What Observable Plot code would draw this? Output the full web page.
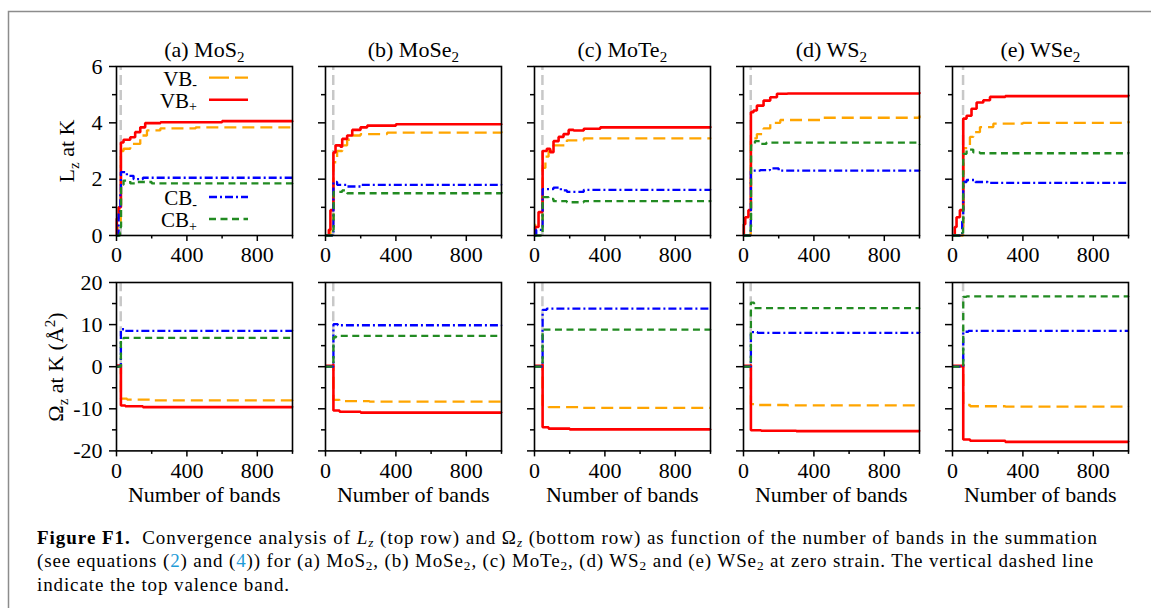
<!DOCTYPE html>
<html>
<head>
<meta charset="utf-8">
<script src="https://cdn.jsdelivr.net/npm/d3@7"></script>
<script src="https://cdn.jsdelivr.net/npm/@observablehq/plot@0.6"></script>
<style>
  body { margin: 0; background: #fff; }
  #fig { position: relative; width: 1151px; height: 608px; overflow: hidden; background: #fff;
         font-family: "Liberation Serif", "Times New Roman", serif; color: #000; }
  #caption { position: absolute; left: 37px; top: 525.5px; font-size: 19px; line-height: 23.7px; }
  #caption .cl { white-space: nowrap; display: block; }
  #caption .cl span.inner { display: inline-block; white-space: nowrap; }
  #caption sub { font-size: 70%; vertical-align: -0.25em; line-height: 0; }
  #caption .ref { color: #1f9bd7; }
</style>
</head>
<body>
<div id="fig">
  <div id="caption">
    <div class="cl" data-w="1061"><span class="inner"><b>Figure F1.</b>&nbsp; Convergence analysis of <i>L</i><sub><i>z</i></sub> (top row) and Ω<sub><i>z</i></sub> (bottom row) as function of the number of bands in the summation</span></div>
    <div class="cl" data-w="1057"><span class="inner">(see equations (<span class="ref">2</span>) and (<span class="ref">4</span>)) for (a) MoS<sub>2</sub>, (b) MoSe<sub>2</sub>, (c) MoTe<sub>2</sub>, (d) WS<sub>2</sub> and (e) WSe<sub>2</sub> at zero strain. The vertical dashed line</span></div>
    <div class="cl" data-w="253"><span class="inner">indicate the top valence band.</span></div>
  </div>
</div>
<script>
// ---- materials and panel labels ----
const panelLetters = ["a", "b", "c", "d", "e"];
const materials = ["MoS", "MoSe", "MoTe", "WS", "WSe"]; // each followed by subscript 2
const topValenceBand = [24, 44, 45, 41, 60];

// ---- tick values ----
const xMajorTicks = [0, 400, 800];
const xMinorTicks = [200, 600, 1000];
const lzMajorTicks = [0, 2, 4, 6];
const lzMinorTicks = [1, 3, 5];
const omegaMajorTicks = [-20, -10, 0, 10, 20];
const omegaMinorTicks = [-15, -5, 5, 15];

// ---- L_z at K versus number of bands: [bands, value], one list per material ----
const lzVBminus = [
  [[0,0],[6,0.5],[24,0.9],[25,3.0],[40,3.08],[78,3.25],[135,3.55],[173,3.73],[249,3.8],[450,3.84],[1000,3.85]],
  [[0,0],[28,0.4],[44,0.5],[45,2.6],[66,3.0],[95,3.2],[123,3.4],[152,3.55],[199,3.6],[350,3.65],[1000,3.69]],
  [[0,0],[4,0.4],[45,0.5],[46,2.4],[62,2.8],[80,3.0],[108,3.2],[184,3.38],[280,3.45],[1000,3.47]],
  [[0,0],[41,0.3],[42,3.45],[76,3.6],[114,3.8],[152,4.0],[209,4.1],[437,4.18],[1000,4.26]],
  [[0,0],[60,0.3],[62,3.1],[99,3.5],[118,3.67],[156,3.85],[232,3.97],[400,4.0],[1000,4.06]]
];
const lzVBplus = [
  [[0,0],[2,0.6],[12,1.0],[24,1.0],[25,3.3],[40,3.4],[78,3.49],[106,3.67],[135,3.84],[163,3.99],[250,4.02],[600,4.06],[1000,4.07]],
  [[0,0],[19,0.2],[28,0.9],[44,0.9],[45,2.95],[57,3.2],[85,3.15],[95,3.43],[123,3.55],[152,3.75],[199,3.84],[237,3.9],[400,3.95],[1000,3.97]],
  [[0,0],[4,0.3],[23,0.83],[45,0.85],[46,3.0],[70,3.08],[89,2.96],[108,3.35],[137,3.5],[165,3.6],[194,3.75],[222,3.73],[280,3.79],[374,3.84],[1000,3.87]],
  [[0,0],[2,0.4],[10,0.65],[28,0.9],[41,0.9],[42,4.38],[57,4.44],[76,4.61],[114,4.79],[152,4.91],[190,5.03],[250,5.04],[1000,5.09]],
  [[0,0],[13,0.3],[23,0.65],[42,0.9],[60,0.9],[61,4.15],[80,4.25],[108,4.5],[137,4.72],[175,4.8],[213,4.92],[300,4.95],[1000,5.0]]
];
const lzCBminus = [
  [[0,0],[12,0.8],[22,1.5],[25,2.25],[59,2.12],[97,2.0],[150,2.05],[1000,2.05]],
  [[0,0],[40,0.1],[45,1.9],[66,1.8],[123,1.74],[199,1.8],[1000,1.81]],
  [[0,0],[10,0.2],[45,0.25],[46,1.65],[108,1.7],[150,1.6],[184,1.55],[280,1.62],[1000,1.63]],
  [[0,0],[41,0.5],[42,2.3],[95,2.32],[150,2.38],[200,2.3],[1000,2.31]],
  [[0,0],[55,0.5],[61,1.9],[80,1.97],[130,1.9],[200,1.87],[1000,1.89]]
];
const lzCBplus = [
  [[0,0],[20,0.1],[24,0.3],[26,1.8],[40,1.95],[78,1.85],[120,1.9],[200,1.85],[1000,1.83]],
  [[0,0],[44,0.2],[46,1.55],[95,1.6],[123,1.5],[1000,1.54]],
  [[0,0],[45,0.1],[46,1.36],[80,1.3],[108,1.22],[184,1.18],[280,1.22],[1000,1.24]],
  [[0,0],[41,0.3],[43,3.2],[65,3.35],[95,3.25],[130,3.3],[1000,3.23]],
  [[0,0],[55,0.1],[60,0.3],[61,2.9],[80,3.05],[118,2.95],[156,2.92],[1000,2.96]]
];

// ---- Omega_z at K (Å^2) versus number of bands ----
const omegaVBminus = [
  [[0,0],[24,0],[25,-7.6],[60,-7.8],[200,-8.0],[1000,-8.1]],
  [[0,0],[44,0],[45,-7.9],[80,-8.2],[250,-8.3],[1000,-8.3]],
  [[0,0],[45,0],[46,-9.2],[80,-9.6],[250,-9.8],[1000,-9.8]],
  [[0,0],[41,0],[42,-8.9],[80,-9.1],[250,-9.2],[1000,-9.25]],
  [[0,0],[60,0],[61,-9.1],[100,-9.4],[300,-9.5],[1000,-9.55]]
];
const omegaVBplus = [
  [[0,0.3],[24,0.5],[25,-9.2],[50,-9.4],[150,-9.6],[1000,-9.65]],
  [[0,0.2],[44,0.5],[45,-10.4],[80,-10.7],[200,-10.9],[1000,-10.95]],
  [[0,0.2],[45,0.5],[46,-14.4],[80,-14.7],[200,-14.9],[1000,-14.95]],
  [[0,0.2],[41,0.4],[42,-15.1],[100,-15.2],[300,-15.3],[1000,-15.35]],
  [[0,0.2],[60,0.5],[61,-17.3],[100,-17.6],[300,-17.85],[1000,-17.9]]
];
const omegaCBminus = [
  [[0,0],[24,0],[25,8.9],[50,8.5],[1000,8.45]],
  [[0,0],[44,0],[45,10.1],[70,9.85],[1000,9.8]],
  [[0,0],[45,0],[46,13.5],[70,13.8],[1000,13.7]],
  [[0,0],[41,0],[42,8.2],[80,8.05],[1000,8.0]],
  [[0,0],[60,0],[61,8.3],[90,8.5],[1000,8.5]]
];
const omegaCBplus = [
  [[0,0],[24,0],[25,6.4],[40,6.85],[1000,6.85]],
  [[0,0],[44,0],[45,7.0],[60,7.3],[1000,7.3]],
  [[0,0],[45,0],[46,8.8],[1000,8.85]],
  [[0,0],[41,0],[42,15.2],[60,13.9],[1000,13.8]],
  [[0,0],[60,0],[61,16.6],[80,16.7],[1000,16.6]]
];

// ---- series styles: VB-, VB+, CB-, CB+ ----
const seriesStyle = [
  {stroke: "#ffa500", strokeWidth: 2.3, strokeDasharray: "12,6"},
  {stroke: "#ff0000", strokeWidth: 2.6},
  {stroke: "#0000ff", strokeWidth: 2.3, strokeDasharray: "8,3,2,3"},
  {stroke: "#228b22", strokeWidth: 2.3, strokeDasharray: "7,4.5"}
];

const serif = '"Liberation Serif", "Times New Roman", serif';
const fig = document.getElementById("fig");

// panel layout
const frameLeft0 = 116.3, panelStep = 209, panelW = 176;
const M = {l: 50, r: 12, t: 12, b: 40};
const rows = [
  {top: 66, h: 169, domain: [0, 6], major: lzMajorTicks, minor: lzMinorTicks,
   series: [lzVBminus, lzVBplus, lzCBminus, lzCBplus]},
  {top: 282.3, h: 168.4, domain: [-20, 20], major: omegaMajorTicks, minor: omegaMinorTicks,
   series: [omegaVBminus, omegaVBplus, omegaCBminus, omegaCBplus]}
];

rows.forEach((row) => {
  materials.forEach((m, i) => {
    const left = frameLeft0 + panelStep * i;
    const svg = Plot.plot({
      width: M.l + panelW + M.r,
      height: M.t + row.h + M.b,
      marginLeft: M.l, marginRight: M.r, marginTop: M.t, marginBottom: M.b,
      style: {background: "transparent", fontFamily: serif, fontSize: "22px", color: "black", overflow: "visible"},
      x: {domain: [0, 1000]},
      y: {domain: row.domain},
      marks: [
        // top valence band marker
        Plot.ruleX([topValenceBand[i]], {y1: 0, y2: row.domain[1], stroke: "#c8c8c8", strokeWidth: 2.5, strokeDasharray: "10,5"}),
        ...row.series.map((s, k) => Plot.line(s[i], {
          x: (d) => d[0], y: (d) => d[1], curve: "step-after",
          strokeLinecap: "butt", strokeLinejoin: "miter", ...seriesStyle[k]
        })),
        Plot.frame({stroke: "black", strokeWidth: 1.6}),
        Plot.axisX({ticks: xMajorTicks, tickSize: 6, tickPadding: 5, strokeWidth: 1.5, label: null, tickFormat: (d) => String(d)}),
        Plot.axisX({ticks: xMinorTicks, tickSize: 3.5, strokeWidth: 1.5, label: null, tickFormat: () => ""}),
        Plot.axisY({ticks: row.major, tickSize: 7, tickPadding: 7, strokeWidth: 1.5, label: null,
                    tickFormat: i === 0 ? (d) => String(d) : () => ""}),
        Plot.axisY({ticks: row.minor, tickSize: 4, strokeWidth: 1.5, label: null, tickFormat: () => ""})
      ]
    });
    svg.style.position = "absolute";
    svg.style.left = (left - M.l) + "px";
    svg.style.top = (row.top - M.t) + "px";
    svg.style.maxWidth = "none";
    fig.appendChild(svg);
  });
});

// ---- overlay: border, titles, axis titles, legend ----
const ov = d3.select(fig).append("svg")
  .attr("width", 1151).attr("height", 608)
  .style("position", "absolute").style("left", 0).style("top", 0)
  .style("pointer-events", "none")
  .style("font-family", serif);

ov.append("path").attr("d", "M8.5,700V11.5H1160")
  .attr("fill", "none").attr("stroke", "#8c8c8c").attr("stroke-width", 1.5);

materials.forEach((m, i) => {
  const cx = frameLeft0 + panelStep * i + panelW / 2;
  const t = ov.append("text").attr("x", cx).attr("y", 57).attr("text-anchor", "middle").attr("font-size", 22);
  t.append("tspan").text(`(${panelLetters[i]}) ${m}`);
  t.append("tspan").attr("font-size", 15).attr("dy", 5).text("2");
  ov.append("text").attr("x", cx).attr("y", 502).attr("text-anchor", "middle")
    .attr("font-size", 22).text("Number of bands");
});

const lzLabel = ov.append("text").attr("transform", "translate(74,151) rotate(-90)")
  .attr("text-anchor", "middle").attr("font-size", 22);
lzLabel.append("tspan").text("L");
lzLabel.append("tspan").attr("font-size", 15).attr("dy", 5).text("z");
lzLabel.append("tspan").attr("dy", -5).text(" at K");

const omLabel = ov.append("text").attr("transform", "translate(63,367) rotate(-90)")
  .attr("text-anchor", "middle").attr("font-size", 22);
omLabel.append("tspan").text("Ω");
omLabel.append("tspan").attr("font-size", 15).attr("dy", 5).text("z");
omLabel.append("tspan").attr("dy", -5).text(" at K (Å");
omLabel.append("tspan").attr("font-size", 15).attr("dy", -8).text("2");
omLabel.append("tspan").attr("dy", 8).text(")");

// legend inside panel (a), top row
const legendNames = [["VB", "-"], ["VB", "+"], ["CB", "-"], ["CB", "+"]];
const legendY = [77.6, 99.8, 197, 219];
legendNames.forEach(([base, sub], k) => {
  const y = legendY[k];
  const t = ov.append("text").attr("x", 197).attr("y", y + 8).attr("text-anchor", "end").attr("font-size", 21);
  t.append("tspan").text(base);
  t.append("tspan").attr("font-size", 14).attr("dy", 3.5).text(sub);
  const st = seriesStyle[k];
  ov.append("line").attr("x1", 209).attr("x2", 248).attr("y1", y).attr("y2", y)
    .attr("stroke", st.stroke).attr("stroke-width", st.strokeWidth)
    .attr("stroke-dasharray", k === 0 ? "20,6" : (st.strokeDasharray || null));
});

// caption: stretch each line to its set width
document.querySelectorAll("#caption .cl").forEach((line) => {
  const inner = line.querySelector(".inner");
  const target = +line.dataset.w;
  const w = inner.getBoundingClientRect().width;
  const n = inner.textContent.length;
  inner.style.letterSpacing = ((target - w) / n) + "px";
});
</script>
</body>
</html>
